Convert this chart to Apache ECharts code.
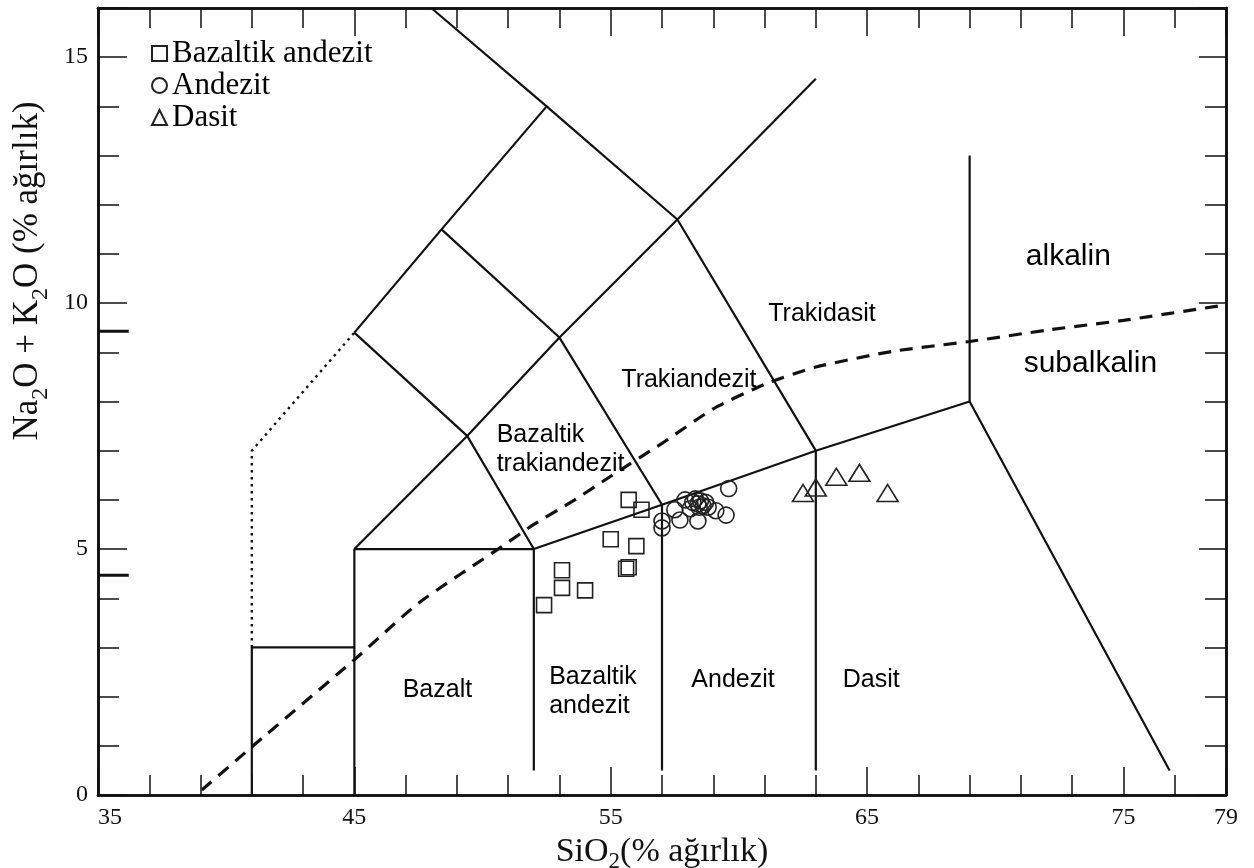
<!DOCTYPE html>
<html><head><meta charset="utf-8">
<script src="https://cdn.jsdelivr.net/npm/echarts@6/dist/echarts.min.js"></script>
<style>html,body{margin:0;padding:0;background:#fff}#c{width:1254px;height:868px}</style>
</head><body><div id="c"></div>
<script>
// ---- tick labels ----
const xTickLabels = [35, 45, 55, 65, 75, 79];
const yTickLabels = [0, 5, 10, 15];

// ---- samples (SiO2, Na2O+K2O) ----
const bazaltikAndezit = [[55.7,6.0],[56.2,5.8],[55.0,5.2],[56.0,5.06],[55.6,4.6],[55.7,4.63],[53.1,4.57],[53.1,4.21],[54.0,4.16],[52.4,3.86]];
const andezit = [[59.6,6.23],[59.5,5.69],[59.1,5.78],[58.8,5.85],[58.4,5.57],[58.4,5.92],[58.2,5.95],[58.5,5.98],[58.3,6.02],[58.6,5.88],[58.1,5.82],[57.9,6.0],[57.7,5.59],[57.5,5.8],[57.0,5.57],[57.0,5.43],[58.45,5.85],[58.7,5.95]];
const dasit = [[62.5,6.14],[63.0,6.25],[63.8,6.47],[64.7,6.55],[65.8,6.14]];

// ---- TAS field boundaries ----
const bPicro = [[41,0],[41,3],[45,3]];
const bBasalt = [[45,0],[45,5],[52,5],[52,0.5]];
const bLower = [[52,5],[57,5.9],[63,7],[69,8],[76.8,0.5]];
const bAndesite = [[57,5.9],[57,0.5]];
const bDacite = [[63,7],[63,0.5]];
const bRhyolite = [[69,8],[69,13]];
const bTrachybasalt = [[45,5],[49.4,7.3],[52,5]];
const bTephrite = [[45,9.4],[49.4,7.3]];
const bTrachyandesite = [[49.4,7.3],[53,9.3],[57.6,11.7]];
const bPhonotephrite = [[45,9.4],[48.4,11.5],[52.5,14],[57.6,11.7],[63,7]];
const bTephriphonolite = [[48.4,11.5],[53,9.3],[57,5.9]];
const bPhonolite = [[48,16],[52.5,14]];
const bTrachyte = [[57.6,11.7],[63,14.56]];
const bDotted = [[41,3],[41,7],[45,9.4]];
const alkalineLine = [[39.05,0.1],[41.05,1.0],[45,2.75],[47.5,3.9],[50.75,5.05],[52,5.5],[53.5,5.97],[55,6.48],[57,7.15],[59,7.85],[61,8.35],[63,8.7],[66,9.02],[69,9.22],[72,9.45],[75,9.65],[78.8,9.95]];
const markTick1 = [[35,9.43],[36.2,9.43]];
const markTick2 = [[35,4.47],[36.2,4.47]];

// ---- field names ----
const regionLabels = [
  {name:'Bazalt', x:48.24, y:2.14, pos:'inside', align:'center'},
  {name:'Bazaltik\nandezit', x:52.6, y:2.1, pos:'right', align:'left'},
  {name:'Andezit', x:59.77, y:2.34, pos:'inside', align:'center'},
  {name:'Dasit', x:65.16, y:2.34, pos:'inside', align:'center'},
  {name:'Bazaltik\ntrakiandezit', x:50.55, y:7.03, pos:'right', align:'left'},
  {name:'Trakiandezit', x:58.05, y:8.43, pos:'inside', align:'center'},
  {name:'Trakidasit', x:63.24, y:9.78, pos:'inside', align:'center'}
];
const seriesLabels = [
  {name:'alkalin', x:72.85, y:10.94},
  {name:'subalkalin', x:73.71, y:8.76}
];

const SERIF = '"Liberation Serif","DejaVu Serif",serif';
const SANS = '"Liberation Sans",Arial,sans-serif';
const INK = '#111';

function lineSeries(data, extra) {
  return Object.assign({
    type:'line', data:data, symbol:'none', silent:true, animation:false,
    xAxisIndex:0, yAxisIndex:0,
    lineStyle:{color:INK, width:2.2}, z:3
  }, extra || {});
}

const boundaries = [bPicro,bBasalt,bLower,bAndesite,bDacite,bRhyolite,bTrachybasalt,bTephrite,bTrachyandesite,bPhonotephrite,bTephriphonolite,bPhonolite,bTrachyte];

const series = boundaries.map(b => lineSeries(b));
series.push(lineSeries(bDotted, {lineStyle:{color:INK, width:2.4, type:[2.5,4.5]}}));
series.push(lineSeries(alkalineLine, {smooth:0.2, lineStyle:{color:INK, width:3.2, type:[13,9]}}));
series.push(lineSeries(markTick1, {lineStyle:{color:INK, width:3}}));
series.push(lineSeries(markTick2, {lineStyle:{color:INK, width:3}}));

const hollow = {color:'rgba(0,0,0,0)', borderColor:'#222', borderWidth:1.6, opacity:1};
series.push({type:'scatter', name:'Bazaltik andezit', data:bazaltikAndezit, symbol:'rect', symbolSize:15, itemStyle:hollow, z:5, animation:false});
series.push({type:'scatter', name:'Andezit', data:andezit, symbol:'circle', symbolSize:16, itemStyle:hollow, z:5, animation:false});
series.push({type:'scatter', name:'Dasit', data:dasit, symbol:'triangle', symbolSize:[21,17], itemStyle:hollow, z:5, animation:false});

series.push({
  type:'scatter', silent:true, animation:false, symbolSize:0, z:6, itemStyle:{opacity:1},
  data: regionLabels.map(r => ({name:r.name, value:[r.x, r.y], label:{position:r.pos, distance:0, align:r.align}})),
  label:{show:true, formatter:p=>p.name, color:'#000', fontFamily:SANS, fontSize:25, lineHeight:29}
});
series.push({
  type:'scatter', silent:true, animation:false, symbolSize:0, z:6, itemStyle:{opacity:1},
  data: seriesLabels.map(r => ({name:r.name, value:[r.x, r.y]})),
  label:{show:true, position:'inside', formatter:p=>p.name, color:'#000', fontFamily:SANS, fontSize:30}
});

function xAx(pos, interval, len, labels) {
  return {
    type:'value', min:35, max:79, interval:interval, position:pos,
    axisLine:{show:true, onZero:false, lineStyle:{color:INK, width:2.6}},
    axisTick:{show:true, inside:true, length:len, lineStyle:{color:INK, width:1.5}},
    axisLabel:{show:!!labels, margin:11, color:INK, fontFamily:SERIF, fontSize:24,
      formatter:v => xTickLabels.includes(v) ? String(v) : '', alignMinLabel:'left'},
    splitLine:{show:false}
  };
}
function yAx(pos, interval, len, labels) {
  return {
    type:'value', min:0, max:16, interval:interval, position:pos,
    axisLine:{show:true, onZero:false, lineStyle:{color:INK, width:2.6}},
    axisTick:{show:true, inside:true, length:len, lineStyle:{color:INK, width:1.5}},
    axisLabel:{show:!!labels, margin:10, color:INK, fontFamily:SERIF, fontSize:24,
      formatter:v => yTickLabels.includes(v) ? String(v) : ''},
    splitLine:{show:false}
  };
}

const xMain = xAx('bottom', 2, 20, true);
xMain.name = 'SiO{sub|2}(% ağırlık)';
xMain.nameLocation = 'middle';
xMain.nameGap = 36;
xMain.nameMoveOverlap = false;
xMain.nameTextStyle = {color:INK, fontFamily:SERIF, fontSize:34, lineHeight:34,
  rich:{sub:{fontFamily:SERIF, fontSize:23, lineHeight:42, verticalAlign:'bottom', color:INK}}};

const option = {
  backgroundColor:'#fff',
  animation:false,
  grid:{left:98, right:28, top:8, bottom:73, containLabel:false, outerBoundsMode:'none'},
  xAxis:[xMain, xAx('bottom',10,28,false), xAx('top',2,20,false), xAx('top',10,28,false)],
  yAxis:[yAx('left',1,21,true), yAx('left',5,29,false), yAx('right',1,21,false), yAx('right',5,27,false)],
  legend:{
    show:true, orient:'vertical', left:146, top:33, itemGap:1, itemWidth:15, itemHeight:15,
    data:[{name:'Bazaltik andezit', icon:'rect'},{name:'Andezit', icon:'circle'},{name:'Dasit', icon:'triangle'}],
    textStyle:{color:'#000', fontFamily:SERIF, fontSize:31, lineHeight:29},
    selectedMode:false
  },
  graphic:[{
    type:'text', x:28, y:271, rotation:Math.PI/2, silent:true,
    style:{text:'Na{sub|2}O + K{sub|2}O (% ağırlık)', fill:INK, fontFamily:SERIF, fontSize:35,
      align:'center', verticalAlign:'middle',
      rich:{sub:{fontFamily:SERIF, fontSize:24, lineHeight:50, verticalAlign:'bottom', fill:INK}}}
  }],
  series:series
};

const chart = echarts.init(document.getElementById('c'), null, {renderer:'canvas'});
chart.setOption(option);
</script>
</body></html>
